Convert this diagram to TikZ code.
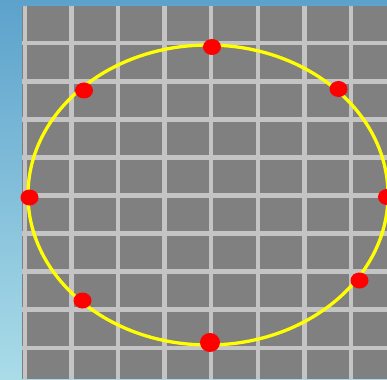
\documentclass[tikz,border=0pt]{standalone}
\definecolor{gridgray}{RGB}{196,196,196}
\definecolor{panelgray}{RGB}{128,128,128}
\definecolor{ringyellow}{RGB}{255,255,0}
\definecolor{dotred}{RGB}{255,0,0}
\definecolor{skytop}{RGB}{92,162,204}
\definecolor{skybot}{RGB}{170,220,232}
\usetikzlibrary{shapes.geometric}
\begin{document}
\begin{tikzpicture}[x=1pt,y=-1pt,
  gridline/.style={draw=gridgray,line width=4.4pt},
  ring/.style={draw=ringyellow,line width=3.3pt},
  reddot/.style={ellipse,fill=dotred,inner sep=0pt,minimum width=18pt,minimum height=16pt}]
\useasboundingbox (0,0) rectangle (387,379);
% background sky
\shade[top color=skytop,bottom color=skybot] (0,0) rectangle (387,379);
% gray panel
\fill[panelgray] (22,6) rectangle (387,379);
% grid
\foreach \k in {0,...,7}{
  \draw[gridline] ({24.8+46.6*\k},6) -- ({24.8+46.6*\k},379);
}
\foreach \k in {0,...,8}{
  \draw[gridline] (22,{43.3+38.05*\k}) -- (387,{43.3+38.05*\k});
}
% ellipse
\draw[ring] (208,195) ellipse [x radius=180, y radius=150];
% dots
\node[reddot] (top) at (212,47) {};
\node[reddot] (tl) at (84,90.5) {};
\node[reddot] (tr) at (338.5,89) {};
\node[reddot] (left) at (29.5,197.5) {};
\node[reddot] (right) at (387,197) {};
\node[reddot] (bl) at (82.5,300.5) {};
\node[reddot] (br) at (359.5,280.5) {};
\node[reddot,minimum width=20pt,minimum height=19pt] (bottom) at (210,342.5) {};
\end{tikzpicture}
\end{document}
